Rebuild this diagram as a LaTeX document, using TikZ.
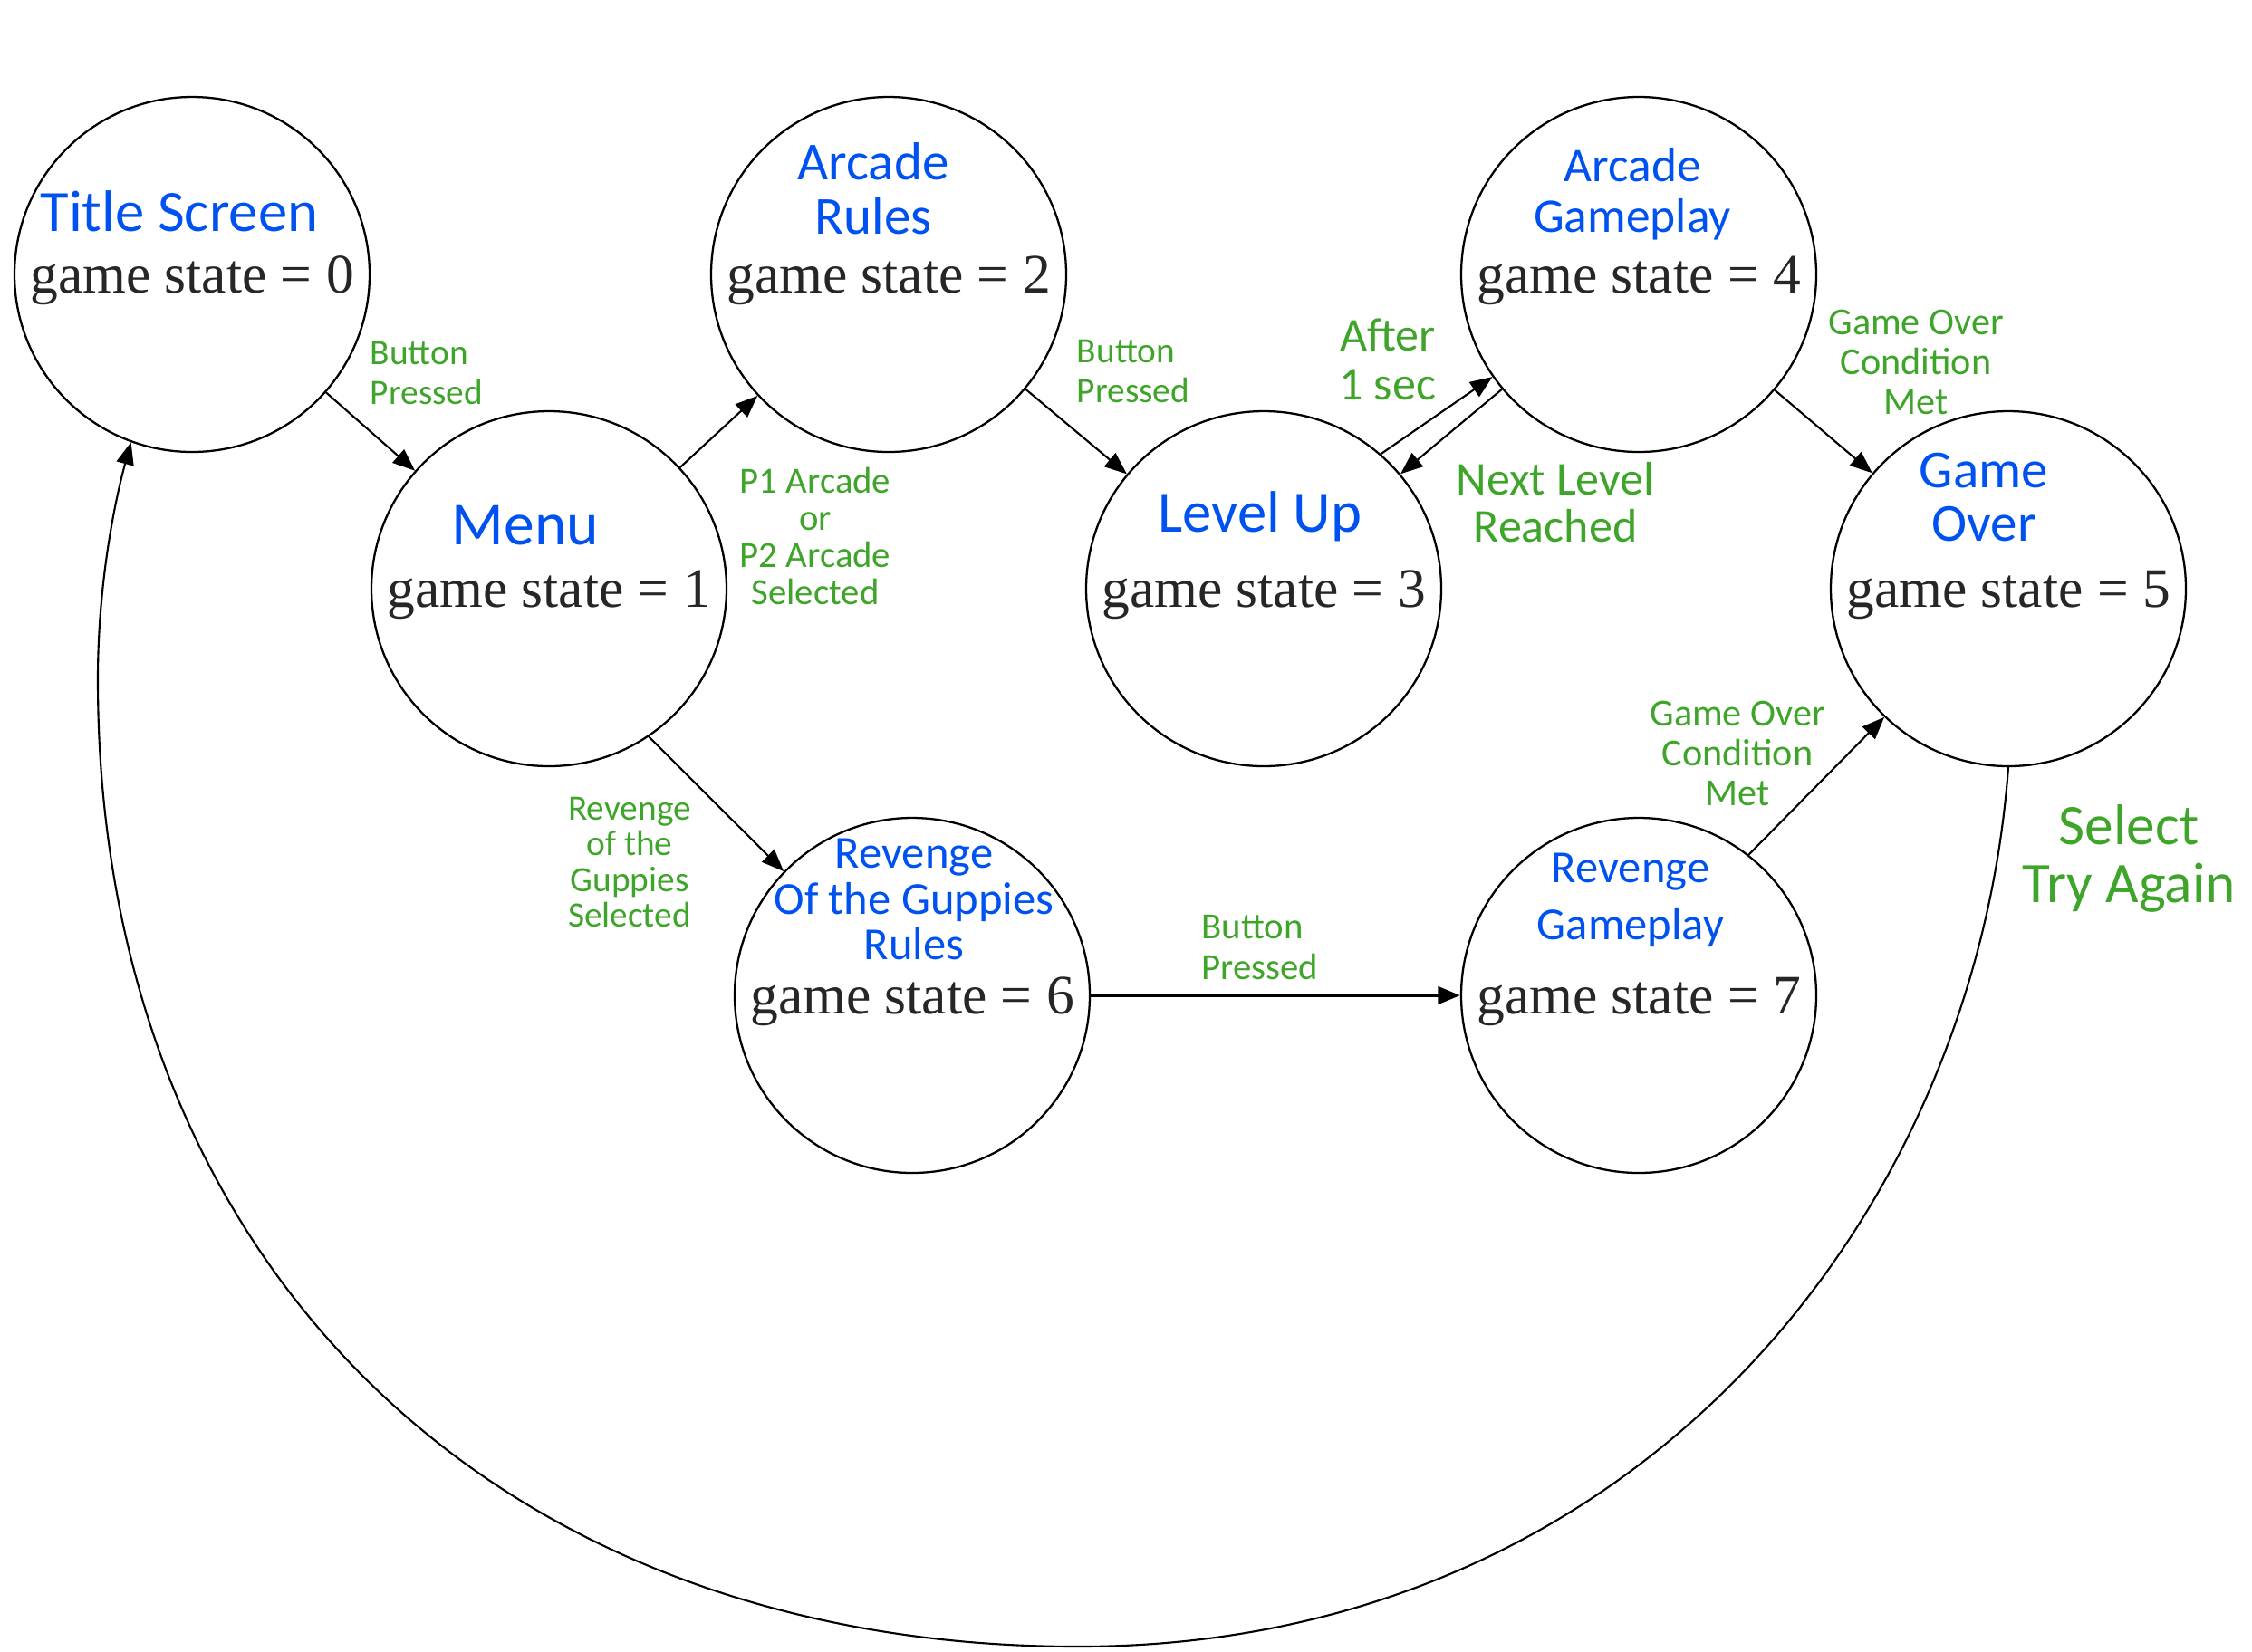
\documentclass[tikz,border=0pt]{standalone}
\usepackage{fontspec}
\usepackage{xcolor}
\usepackage{tikz}
\usetikzlibrary{arrows.meta}

\setmainfont{Liberation Serif}
\newfontfamily\handfont{Carlito}

\definecolor{handblue}{RGB}{0,82,240}
\definecolor{handgreen}{RGB}{62,165,42}

\tikzset{
	gstate/.style = {circle, draw, line width = 0.65pt, minimum size = 3.92cm, inner sep = 0pt, text = black!85, font = \fontsize{17.5}{20}\selectfont, text height = 11.4pt, text depth = 0pt},
	statename/.style 2 args = {text = handblue, align = center, inner sep = 0pt, font = \handfont\fontsize{#1}{#2}\selectfont},
	guard/.style 2 args = {text = handgreen, align = center, inner sep = 0pt, font = \handfont\fontsize{#1}{#2}\selectfont},
	trans/.style = {-{Triangle[length = 7pt, width = 5.5pt]}, line width = 0.6pt},
}

\begin{document}
\begin{tikzpicture}
		\useasboundingbox (0,0) rectangle (24.86,-18.23);
		
		\node [gstate] (s0) at (2.12,-3.03) {game state = 0};
		\node [gstate] (s1) at (6.06,-6.50) {game state = 1};
		\node [gstate] (s2) at (9.81,-3.03) {game state = 2};
		\node [gstate] (s3) at (13.95,-6.50) {game state = 3};
		\node [gstate] (s4) at (18.09,-3.03) {game state = 4};
		\node [gstate] (s5) at (22.17,-6.50) {game state = 5};
		\node [gstate] (s6) at (10.07,-10.99) {game state = 6};
		\node [gstate] (s7) at (18.09,-10.99) {game state = 7};
		
		\node [statename={18.4}{18}] (n0) at (1.98,-2.33) {Title Screen};
		\node [statename={19.2}{18}] (n1) at (5.80,-5.80) {Menu};
		\node [statename={16.8}{17}] (n2) at (9.64,-2.08) {Arcade\\Rules};
		\node [statename={18.4}{18}] (n3) at (13.91,-5.70) {Level Up};
		\node [statename={15.2}{16}] (n4) at (18.02,-2.14) {Arcade\\Gameplay};
		\node [statename={16.8}{17}] (n5) at (21.90,-5.49) {Game\\Over};
		\node [statename={14.4}{14.4}] (n6) at (10.09,-9.93) {Revenge\\Of the Guppies\\Rules};
		\node [statename={14.4}{18}] (n7) at (18.00,-9.94) {Revenge\\Gameplay};
		
		\node [guard={11.2}{12.5}, align=left] (g01) at (4.71,-4.12) {Button\\Pressed};
		\node [guard={11.6}{11.6}] (g12) at (9.00,-5.92) {P1 Arcade\\or\\P2 Arcade\\Selected};
		\node [guard={11.2}{12.5}, align=left] (g23) at (12.51,-4.10) {Button\\Pressed};
		\node [guard={14.8}{15.3}] (g34) at (15.32,-3.97) {After\\1 sec};
		\node [guard={14.8}{14.8}] (g43) at (17.17,-5.55) {Next Level\\Reached};
		\node [guard={12}{12.4}] (g45) at (21.15,-4.00) {Game Over\\Condition\\Met};
		\node [guard={11.2}{11.2}] (g16) at (6.95,-9.52) {Revenge\\of the\\Guppies\\Selected};
		\node [guard={11.6}{13}, align=left] (g67) at (13.91,-10.46) {Button\\Pressed};
		\node [guard={12}{12.4}] (g75) at (19.18,-8.32) {Game Over\\Condition\\Met};
		\node [guard={18}{18}] (g50) at (23.50,-9.48) {Select\\Try Again};
		
		\begin{scope}[trans]
			\draw (s0) -- (s1);
			\draw (s1) -- (s2);
			\draw (s2) -- (s3);
			\draw (s3.49) -- (s4.215);
			\draw (s4.220) -- (s3.40);
			\draw (s4) -- (s5);
			\draw (s1.-56) -- (s6.136);
			\draw [line width = 1.1pt] (s6) -- (s7);
			\draw (s7.52) -- (s5.226);
			\draw (s5.south) .. controls (21.80,-13.50) and (18.00,-18.18) .. (11.90,-18.18)
				.. controls (5.41,-18.18) and (1.08,-13.91) .. (1.08,-7.50)
				.. controls (1.08,-6.50) and (1.25,-5.60) .. (s0.250);
		\end{scope}
	\end{tikzpicture}
\end{document}
